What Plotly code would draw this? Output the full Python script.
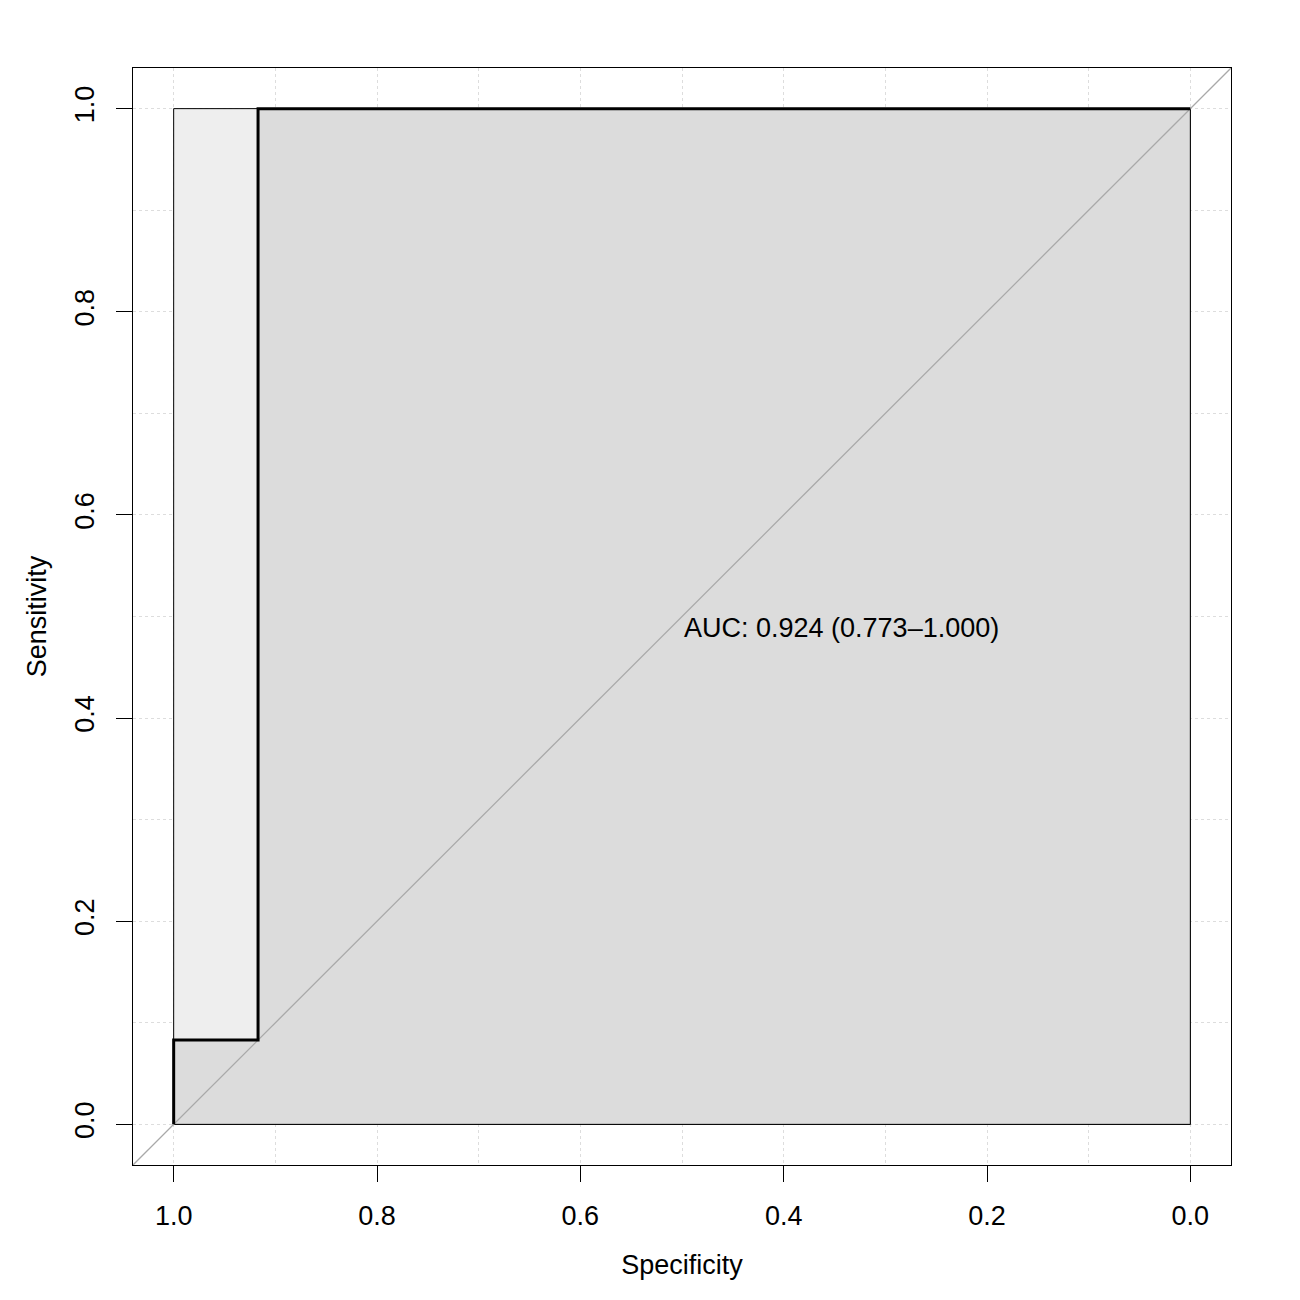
import plotly.graph_objects as go

# ROC curve data
specificity = [1.0, 1.0, 0.917, 0.917, 0.0]
sensitivity = [0.0, 0.083, 0.083, 1.0, 1.0]

# Confidence shape (specificity CI bounds)
ci_spec = [1.0, 1.0, 0.0, 0.0]
ci_sens = [0.0, 1.0, 1.0, 0.0]

auc_label = "AUC: 0.924 (0.773\u20131.000)"
tick_vals = [1.0, 0.8, 0.6, 0.4, 0.2, 0.0]
tick_text = ["1.0", "0.8", "0.6", "0.4", "0.2", "0.0"]

FONT = "Liberation Sans, Arial, sans-serif"
FS = 27

fig = go.Figure()

# CI shape
fig.add_trace(go.Scatter(x=ci_spec + [ci_spec[0]], y=ci_sens + [ci_sens[0]],
                         mode="lines", fill="toself", fillcolor="#EEEEEE",
                         line=dict(color="black", width=1), hoverinfo="skip"))

# AUC polygon
poly_x = specificity + [0.0, 1.0]
poly_y = sensitivity + [0.0, 0.0]
fig.add_trace(go.Scatter(x=poly_x, y=poly_y, mode="lines", fill="toself",
                         fillcolor="#DCDCDC", line=dict(color="black", width=1),
                         hoverinfo="skip"))

# identity line
fig.add_trace(go.Scatter(x=[1.04, -0.04], y=[-0.04, 1.04], mode="lines",
                         line=dict(color="#A9A9A9", width=1.3), hoverinfo="skip"))

# ROC curve
fig.add_trace(go.Scatter(x=specificity, y=sensitivity, mode="lines",
                         line=dict(color="black", width=3), hoverinfo="skip"))

fig.add_annotation(x=0.5, y=0.489, text=auc_label, showarrow=False,
                   xanchor="left", yanchor="middle", xref="x", yref="y",
                   font=dict(family=FONT, size=FS, color="black"))

axis_common = dict(
    tickvals=tick_vals, ticktext=tick_text, ticks="outside", ticklen=16,
    tickwidth=1, tickcolor="black", showline=True, linecolor="black",
    linewidth=1, mirror=True, zeroline=False,
    showgrid=False, automargin=False,
    minor=dict(dtick=0.1, tick0=0, showgrid=True, gridcolor="#DDDDDD",
               griddash="dot", gridwidth=1, ticks=""),
    tickfont=dict(family=FONT, size=FS, color="black"),
    title_font=dict(family=FONT, size=FS, color="black"),
)

fig.update_xaxes(range=[1.04, -0.04], title_text="Specificity",
                 ticklabelstandoff=11, title_standoff=24, **axis_common)
fig.update_yaxes(range=[-0.04, 1.04], title_text="Sensitivity",
                 tickangle=-90, ticklabelstandoff=11, title_standoff=15,
                 **axis_common)

fig.update_layout(width=1300, height=1300, showlegend=False,
                  plot_bgcolor="white", paper_bgcolor="white",
                  margin=dict(l=125, r=77, t=60, b=143))

fig.write_html("out.html")
